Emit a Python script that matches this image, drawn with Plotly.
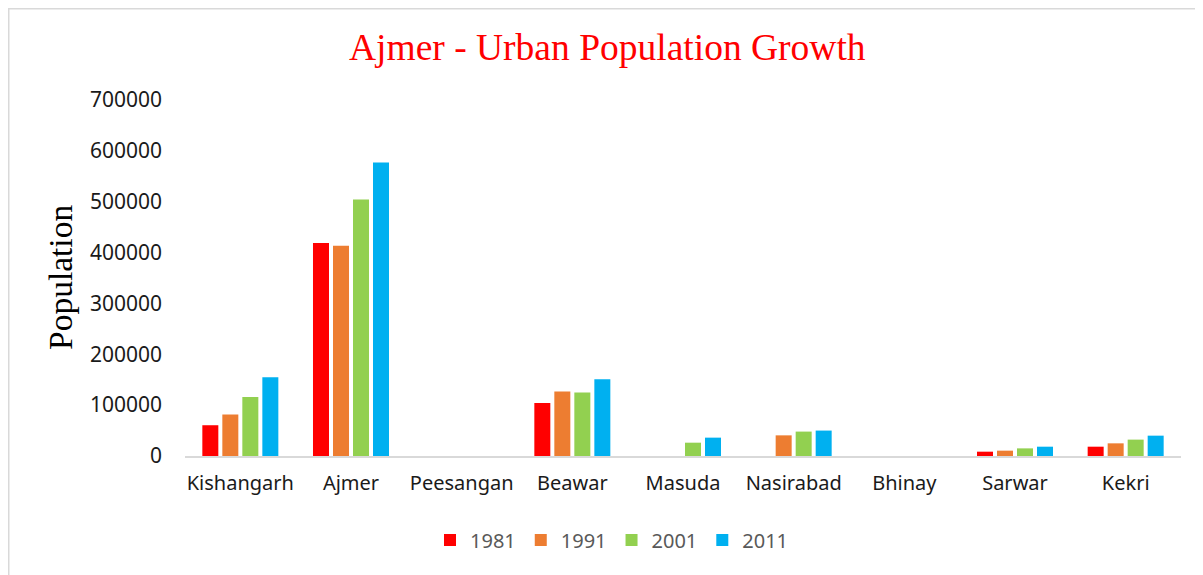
import plotly.graph_objects as go

categories = ["Kishangarh", "Ajmer", "Peesangan", "Beawar", "Masuda",
              "Nasirabad", "Bhinay", "Sarwar", "Kekri"]
years = ["1981", "1991", "2001", "2011"]
pop_1981 = [60500, 419000, None, 104000, None, None, None, 8500, 18300]
pop_1991 = [81600, 413600, None, 127000, None, 40600, None, 10500, 24900]
pop_2001 = [115800, 504300, None, 125000, 26200, 48000, None, 15000, 32200]
pop_2011 = [154600, 577300, None, 150700, 36100, 50000, None, 18300, 40000]
series = [pop_1981, pop_1991, pop_2001, pop_2011]
colors = ["#FF0000", "#ED7D31", "#92D050", "#00B0F0"]
y_ticks = [0, 100000, 200000, 300000, 400000, 500000, 600000, 700000]

fig = go.Figure()
for name, vals, col in zip(years, series, colors):
    fig.add_trace(go.Bar(x=categories, y=vals, name=name,
                         marker=dict(color=col, line=dict(width=0))))

# page offset (body margin) of 8px
OFF = 8
W, H = 1203 - OFF, 575 - OFF
L, T = 185 - OFF, 100 - OFF
R = W - (1181 - OFF)
B = H - (456 - OFF)
pw, ph = W - L - R, H - T - B

def px(x):
    return (x - OFF - L) / pw

def py(y):
    return (H - B - (y - OFF)) / ph

fig.update_layout(
    width=W, height=H,
    margin=dict(l=L, r=R, t=T, b=B),
    paper_bgcolor="white", plot_bgcolor="white",
    barmode="group", bargap=0.277, bargroupgap=0.2,
    font=dict(family="Noto Sans", size=20, color="#1a1a1a"),
    showlegend=True,
    legend=dict(orientation="h", x=px(612), xanchor="center",
                y=py(540), yanchor="middle",
                font=dict(family="Noto Sans", size=20, color="#595959"),
                itemwidth=30, traceorder="normal"),
    xaxis=dict(showline=True, linecolor="#d9d9d9", linewidth=2,
               showgrid=False, ticks="", ticklabelstandoff=8,
               tickfont=dict(family="Noto Sans", size=20, color="#1a1a1a")),
    yaxis=dict(range=[0, 700000], tickvals=y_ticks,
               ticktext=[str(v) for v in y_ticks],
               showgrid=False, zeroline=False, showline=False, ticks="",
               ticklabelstandoff=22,
               tickfont=dict(family="Noto Sans", size=21, color="#1a1a1a")),
    annotations=[
        dict(text="Ajmer - Urban Population Growth", xref="paper", yref="paper",
             x=px(607), y=py(47), xanchor="center", yanchor="middle",
             showarrow=False,
             font=dict(family="Liberation Serif", size=37.5, color="#FF0000")),
        dict(text="Population", xref="paper", yref="paper",
             x=px(60), y=py(278), xanchor="center", yanchor="middle",
             textangle=-90, showarrow=False,
             font=dict(family="Liberation Serif", size=33.5, color="#000000")),
    ],
    shapes=[
        dict(type="rect", xref="paper", yref="paper",
             x0=px(OFF + 0.75), x1=px(1215), y0=py(590), y1=py(OFF + 0.75),
             line=dict(color="#d9d9d9", width=1.5), fillcolor="rgba(0,0,0,0)",
             layer="below"),
    ],
)

fig.write_html("out.html")
